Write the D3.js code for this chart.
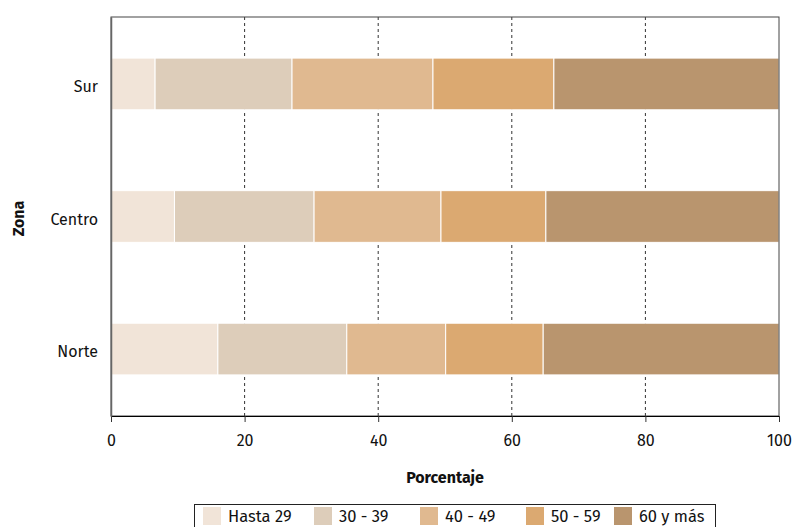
<!DOCTYPE html>
<html><head><meta charset="utf-8">
<script src="https://cdn.jsdelivr.net/npm/d3@7"></script>
<style>body{margin:0;background:#fff}svg{display:block}text{font-family:"Fira Sans","Noto Sans",sans-serif}</style>
</head><body><svg id="c" width="792" height="527"></svg>
<script>
const zonas = ["Sur", "Centro", "Norte"];
const grupos = ["Hasta 29", "30 - 39", "40 - 49", "50 - 59", "60 y más"];
const hasta29 = [6.6, 9.5, 16.0];
const g30_39 = [20.5, 20.9, 19.3];
const g40_49 = [21.1, 19.0, 14.8];
const g50_59 = [18.1, 15.7, 14.6];
const g60mas = [33.7, 34.9, 35.3];
const xTicks = [0, 20, 40, 60, 80, 100];
const colores = ["#f1e4d8", "#ddcdba", "#e0b990", "#dba971", "#b9956e"];

const series = [hasta29, g30_39, g40_49, g50_59, g60mas];
const rows = zonas.map((z, i) => {
  const r = {zona: z};
  grupos.forEach((g, j) => r[g] = series[j][i]);
  return r;
});

const FF = '"Fira Sans","Noto Sans",sans-serif';
const svg = d3.select("#c");
const m = {l: 111, r: 779, t: 17, b: 416};
const x = d3.scaleLinear().domain([0, 100]).range([m.l, m.r]);
const y = d3.scaleBand().domain(zonas).range([m.t, m.b]).paddingInner(0.61).paddingOuter(0.31);
const color = d3.scaleOrdinal().domain(grupos).range(colores);

// grid
svg.append("g").selectAll("line").data(xTicks.filter(d => d > 0 && d < 100)).join("line")
  .attr("x1", d => x(d)).attr("x2", d => x(d)).attr("y1", m.t).attr("y2", m.b)
  .attr("stroke", "#333").attr("stroke-dasharray", "3,3").attr("stroke-width", 1);

// bars
const stack = d3.stack().keys(grupos)(rows);
svg.append("g").selectAll("g").data(stack).join("g")
  .attr("fill", d => color(d.key))
  .selectAll("rect").data(d => d).join("rect")
  .attr("x", d => x(d[0])).attr("width", d => x(d[1]) - x(d[0]))
  .attr("y", d => y(d.data.zona)).attr("height", y.bandwidth())
  .attr("stroke", "#fff").attr("stroke-width", 1);

// frame
svg.append("rect").attr("x", m.l).attr("y", m.t).attr("width", m.r - m.l).attr("height", m.b - m.t)
  .attr("fill", "none").attr("stroke", "#444").attr("stroke-width", 1);

// x axis
const xa = svg.append("g").attr("transform", `translate(0,${m.b})`)
  .call(d3.axisBottom(x).tickValues(xTicks).tickSize(6).tickPadding(13));
xa.select(".domain").attr("stroke", "#000");
xa.selectAll(".tick line").attr("stroke", "#333");
xa.selectAll("text").attr("font-size", 16).attr("fill", "#111").style("font-family", FF);

// y axis
const ya = svg.append("g").attr("transform", `translate(${m.l},0)`)
  .call(d3.axisLeft(y).tickSize(0).tickPadding(13));
ya.select(".domain").attr("stroke", "#666").attr("stroke-width", 1.5);
ya.selectAll("text").attr("font-size", 16).attr("fill", "#111").attr("dy", "0.5em").style("font-family", FF);

// titles
svg.append("text").attr("x", (m.l + m.r) / 2).attr("y", 483).attr("text-anchor", "middle")
  .attr("font-size", 16).attr("font-weight", "bold").attr("fill", "#111").text("Porcentaje");
svg.append("text").attr("transform", `translate(24,${(m.t + m.b) / 2 + 2}) rotate(-90)`).attr("text-anchor", "middle")
  .attr("font-size", 16).attr("font-weight", "bold").attr("fill", "#111").text("Zona");

// legend
const lg = svg.append("g");
lg.append("rect").attr("x", 194.5).attr("y", 504.5).attr("width", 521).attr("height", 30)
  .attr("fill", "#fff").attr("stroke", "#222");
const lx = [203, 314, 420, 526, 614];
grupos.forEach((g, i) => {
  lg.append("rect").attr("x", lx[i]).attr("y", 507).attr("width", 18).attr("height", 18).attr("fill", color(g));
  lg.append("text").attr("x", lx[i] + 25).attr("y", 522).attr("font-size", 16.5).attr("fill", "#111").text(g);
});
</script></body></html>
